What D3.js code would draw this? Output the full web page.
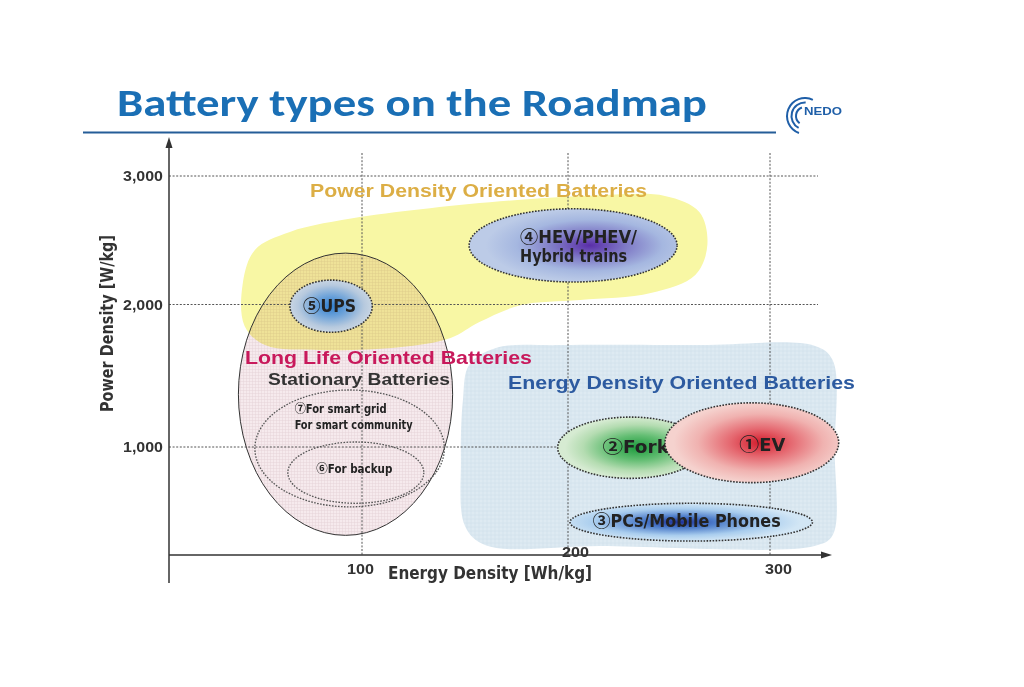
<!DOCTYPE html>
<html><head><meta charset="utf-8">
<script src="https://cdn.jsdelivr.net/npm/d3@7"></script>
<style>html,body{margin:0;padding:0;background:#fff;} svg{display:block;}</style>
</head><body><svg id="chart" width="1024" height="687"></svg>
<script>
// ---------------- data ----------------
const chartTitle = "Battery types on the Roadmap";
const logoText = "NEDO";
const xTicks = [100, 200, 300];
const xTickLabels = ["100", "200", "300"];
const yTicks = [1000, 2000, 3000];
const yTickLabels = ["1,000", "2,000", "3,000"];
const xTitle = "Energy Density [Wh/kg]";
const yTitle = "Power Density [W/kg]";

const batteryNames    = ["①EV", "②Forklift", "③PCs/Mobile Phones", "④HEV/PHEV/", "⑤UPS", "⑥For backup", "⑦For smart grid"];
const batterySubNames = ["", "", "", "Hybrid trains", "", "", "For smart community"];
const energyMin = [248, 195, 201, 152, 65, 64, 48];
const energyMax = [334, 267, 321, 254, 105, 130, 140];
const powerMin  = [750, 780, 340, 2175, 1805, 605, 580];
const powerMax  = [1310, 1210, 605, 2745, 2190, 1035, 1400];

const groupNames = ["Power Density Oriented Batteries", "Long Life Oriented Batteries", "Energy Density Oriented Batteries"];
const stationaryName = "Stationary Batteries";
const powerRegionEnergy = [42, 48, 65, 99, 133, 177, 216, 248, 265, 269, 263, 241, 206, 177, 157, 143, 118, 80, 53, 43];
const powerRegionPower  = [2150, 2425, 2565, 2680, 2750, 2815, 2850, 2845, 2720, 2465, 2230, 2090, 2035, 1995, 1877, 1765, 1700, 1680, 1715, 1850];
const energyRegionEnergy = [149, 152, 165, 196, 265, 322, 331, 332, 331, 322, 216, 160, 150, 148];
const energyRegionPower  = [1330, 1575, 1695, 1715, 1715, 1710, 1610, 980, 380, 305, 305, 310, 445, 910];
const longLifeEnergy = [40, 144];
const longLifePower  = [380, 2400];

// ---------------- layout / style ----------------
const svg = d3.select("#chart");
const defs = svg.append("defs");
const x = d3.scaleLinear().domain(xTicks).range([362, 568, 770]);
const y = d3.scaleLinear().domain(yTicks).range([447, 304.5, 176]);
const axisX0 = 169, axisY0 = 555, gridRight = 818, gridTop = 153;
const narrow = "'Liberation Sans Narrow','DejaVu Sans Condensed','Roboto Condensed',sans-serif";
const arial = "'Liberation Sans',Arial,sans-serif";
const circledFont = "'Noto Sans CJK JP','DejaVu Sans',sans-serif";

function radial(id, stops, cx, cy) {
  const g = defs.append("radialGradient").attr("id", id)
    .attr("cx", cx).attr("cy", cy).attr("r", 0.5).attr("fx", cx).attr("fy", cy);
  stops.forEach(s => g.append("stop").attr("offset", s[0]).attr("stop-color", s[1]));
}
radial("gEV", [[0, "#d41c2c"], [0.35, "#e56870"], [0.72, "#f0b2b0"], [1, "#f5d2ce"]], 0.55, 0.5);
radial("gFork", [[0, "#1c9a3c"], [0.4, "#62bd72"], [0.75, "#b4dcb1"], [1, "#d6ebd2"]], 0.55, 0.5);
radial("gPC", [[0, "#1d2f9a"], [0.3, "#4d7cc9"], [0.7, "#a9cdee"], [1, "#d2e6f5"]], 0.45, 0.5);
radial("gHEV", [[0, "#5a2ea8"], [0.35, "#7f7ac6"], [0.7, "#a5b7e0"], [1, "#bccbe7"]], 0.58, 0.5);
radial("gUPS", [[0, "#2f7fd0"], [0.4, "#6ea3d9"], [0.8, "#b6c9de"], [1, "#c8d5e3"]], 0.5, 0.5);
const batteryFill = ["url(#gEV)", "url(#gFork)", "url(#gPC)", "url(#gHEV)", "url(#gUPS)", "none", "none"];

const pat = defs.append("pattern").attr("id", "pinkGrid").attr("width", 3).attr("height", 3)
  .attr("patternUnits", "userSpaceOnUse");
pat.append("rect").attr("width", 3).attr("height", 3).attr("fill", "#f6eaed");
pat.append("path").attr("d", "M0 0.3H3M0.3 0V3").attr("stroke", "#e7d3d9").attr("stroke-width", 0.6);
const bpat = defs.append("pattern").attr("id", "blueTex").attr("width", 4).attr("height", 4)
  .attr("patternUnits", "userSpaceOnUse");
bpat.append("rect").attr("width", 4).attr("height", 4).attr("fill", "#d9e7f0");
bpat.append("circle").attr("cx", 1).attr("cy", 1).attr("r", 0.8).attr("fill", "#e6eff5");
bpat.append("circle").attr("cx", 3).attr("cy", 3).attr("r", 0.6).attr("fill", "#cfdfea");

svg.append("rect").attr("width", 1024).attr("height", 687).attr("fill", "#fff");

// title
svg.append("text").text(chartTitle)
  .attr("x", 117).attr("y", 116)
  .attr("font-family", "Carlito,Lato,'Open Sans',sans-serif").attr("font-weight", "bold")
  .attr("font-size", 38).attr("fill", "#1a6fb5")
  .attr("textLength", 590).attr("lengthAdjust", "spacingAndGlyphs");
svg.append("line").attr("x1", 83).attr("x2", 776).attr("y1", 132.5).attr("y2", 132.5)
  .attr("stroke", "#255d98").attr("stroke-width", 2.2);

// logo
const arcGen = d3.arc();
[[9, -2.5, -0.35], [13.5, -2.65, 0.05], [18, -2.8, 0.45]].forEach(a => {
  svg.append("path").attr("transform", "translate(805,116)")
    .attr("d", arcGen({innerRadius: a[0] - 1, outerRadius: a[0] + 1, startAngle: a[1], endAngle: a[2]}))
    .attr("fill", "#1f5fa8");
});
svg.append("text").text(logoText).attr("x", 804).attr("y", 114.5)
  .attr("font-family", arial).attr("font-weight", "bold").attr("font-size", 11.5)
  .attr("fill", "#1f5fa8").attr("textLength", 38).attr("lengthAdjust", "spacingAndGlyphs");

// regions
const regionLine = d3.line().curve(d3.curveCatmullRomClosed.alpha(0.5));
svg.append("path")
  .attr("d", regionLine(powerRegionEnergy.map((e, i) => [x(e), y(powerRegionPower[i])])))
  .attr("fill", "#f8f7a4");
svg.append("path")
  .attr("d", regionLine(energyRegionEnergy.map((e, i) => [x(e), y(energyRegionPower[i])])))
  .attr("fill", "url(#blueTex)");
const llCx = (x(longLifeEnergy[0]) + x(longLifeEnergy[1])) / 2;
const llCy = (y(longLifePower[0]) + y(longLifePower[1])) / 2;
const llRx = (x(longLifeEnergy[1]) - x(longLifeEnergy[0])) / 2;
const llRy = (y(longLifePower[0]) - y(longLifePower[1])) / 2;
svg.append("ellipse").attr("cx", llCx).attr("cy", llCy).attr("rx", llRx).attr("ry", llRy)
  .attr("fill", "url(#pinkGrid)").style("mix-blend-mode", "multiply");
svg.append("ellipse").attr("cx", llCx).attr("cy", llCy).attr("rx", llRx).attr("ry", llRy)
  .attr("fill", "none").attr("stroke", "#333").attr("stroke-width", 1);

// grid
const grid = svg.append("g").attr("stroke", "#555").attr("stroke-width", 1).attr("stroke-dasharray", "2,1.6");
grid.selectAll(".h").data(yTicks).join("line")
  .attr("x1", axisX0).attr("x2", gridRight).attr("y1", d => y(d)).attr("y2", d => y(d));
grid.selectAll(".v").data(xTicks).join("line")
  .attr("y1", gridTop).attr("y2", axisY0).attr("x1", d => x(d)).attr("x2", d => x(d));

// axes
svg.append("line").attr("x1", axisX0).attr("x2", axisX0).attr("y1", 583).attr("y2", 145)
  .attr("stroke", "#333").attr("stroke-width", 1.5);
svg.append("path").attr("d", `M${axisX0},137L${axisX0 - 3.5},148L${axisX0 + 3.5},148Z`).attr("fill", "#333");
svg.append("line").attr("x1", axisX0).attr("x2", 824).attr("y1", axisY0).attr("y2", axisY0)
  .attr("stroke", "#333").attr("stroke-width", 1.5);
svg.append("path").attr("d", `M832,${axisY0}L821,${axisY0 - 3.5}L821,${axisY0 + 3.5}Z`).attr("fill", "#333");

const yAx = svg.append("g").attr("transform", `translate(${axisX0},0)`)
  .call(d3.axisLeft(y).tickValues(yTicks).tickFormat((d, i) => yTickLabels[i]).tickSize(0).tickPadding(6));
yAx.select(".domain").remove();
yAx.selectAll("text").attr("font-family", arial).attr("font-weight", "bold").attr("font-size", 14.5)
  .attr("fill", "#333").attr("dy", "0.33em").attr("textLength", 40).attr("lengthAdjust", "spacingAndGlyphs");

const xAx = svg.append("g").attr("transform", `translate(0,${axisY0})`)
  .call(d3.axisBottom(x).tickValues(xTicks).tickFormat((d, i) => xTickLabels[i]).tickSize(0));
xAx.select(".domain").remove();
xAx.selectAll("text").attr("font-family", arial).attr("font-weight", "bold").attr("font-size", 14.5)
  .attr("fill", "#333").attr("dy", 0)
  .attr("y", d => d === 200 ? 2 : 19)
  .attr("dx", d => d === 100 ? -2 : (d === 200 ? 7 : 8))
  .attr("textLength", 27).attr("lengthAdjust", "spacingAndGlyphs");

svg.append("text").text(xTitle).attr("x", 388).attr("y", 579)
  .attr("font-family", narrow).attr("font-weight", "bold").attr("font-size", 17.5).attr("fill", "#333")
  .attr("textLength", 204).attr("lengthAdjust", "spacingAndGlyphs");
svg.append("text").text(yTitle).attr("transform", "translate(113,323.5) rotate(-90)")
  .attr("text-anchor", "middle")
  .attr("font-family", narrow).attr("font-weight", "bold").attr("font-size", 17).attr("fill", "#333")
  .attr("textLength", 177).attr("lengthAdjust", "spacingAndGlyphs");

// battery ellipses and labels
const labelLayout = [
  {dx: 10.5, dy: [8], anchor: "middle", size: 18.5, len: [46]},
  {dx: -28, dy: [5.5], anchor: "start", size: 17.5, len: [96]},
  {dx: -4.5, dy: [5], anchor: "middle", size: 17, len: [188]},
  {dx: -53, dy: [-2.5, 16.5], anchor: "start", size: 17, len: [117, 107]},
  {dx: -1.5, dy: [6], anchor: "middle", size: 17.5, len: [53]},
  {dx: -1.5, dy: [0.5], anchor: "middle", size: 12, len: [76]},
  {dx: -55, dy: [-35.5, -19.5], anchor: "start", size: 12, len: [92, 118]}
];
const circled = /^[\u2460-\u2473]/;
const drawOrder = [6, 5, 4, 3, 2, 1, 0];
drawOrder.forEach(i => {
  const cx = (x(energyMin[i]) + x(energyMax[i])) / 2;
  const cy = (y(powerMin[i]) + y(powerMax[i])) / 2;
  const rx = (x(energyMax[i]) - x(energyMin[i])) / 2;
  const ry = (y(powerMin[i]) - y(powerMax[i])) / 2;
  const isInner = batteryFill[i] === "none";
  svg.append("ellipse").attr("cx", cx).attr("cy", cy).attr("rx", rx).attr("ry", ry)
    .attr("fill", batteryFill[i])
    .attr("stroke", isInner ? "#555" : "#333")
    .attr("stroke-width", isInner ? 1.3 : 1.6)
    .attr("stroke-dasharray", "1.6,1.4");
  const L = labelLayout[i];
  const lines = [batteryNames[i], batterySubNames[i]].filter(s => s);
  lines.forEach((t, k) => {
    const tx = svg.append("text").attr("x", cx + L.dx).attr("y", cy + L.dy[k])
      .attr("text-anchor", L.anchor)
      .attr("font-family", narrow).attr("font-weight", "bold").attr("font-size", L.size)
      .attr("fill", "#222")
      .attr("textLength", L.len[k]).attr("lengthAdjust", "spacingAndGlyphs");
    if (circled.test(t)) {
      tx.append("tspan").text(t[0]).attr("font-family", circledFont).attr("font-weight", "bold")
        .attr("font-size", L.size);
      tx.append("tspan").text(t.slice(1));
    } else {
      tx.text(t);
    }
  });
});

// group labels
const groupStyle = [
  {x: 310, y: 197, color: "#dcae45", size: 18, len: 337},
  {x: 245, y: 364, color: "#c8195b", size: 19, len: 287},
  {x: 508, y: 389, color: "#2c5aa0", size: 19, len: 347}
];
groupNames.forEach((g, i) => {
  const s = groupStyle[i];
  svg.append("text").text(g).attr("x", s.x).attr("y", s.y)
    .attr("font-family", arial).attr("font-weight", "bold").attr("font-size", s.size)
    .attr("fill", s.color).attr("textLength", s.len).attr("lengthAdjust", "spacingAndGlyphs");
});
svg.append("text").text(stationaryName).attr("x", 268).attr("y", 385)
  .attr("font-family", arial).attr("font-weight", "bold").attr("font-size", 17)
  .attr("fill", "#333").attr("textLength", 182).attr("lengthAdjust", "spacingAndGlyphs");
</script></body></html>
